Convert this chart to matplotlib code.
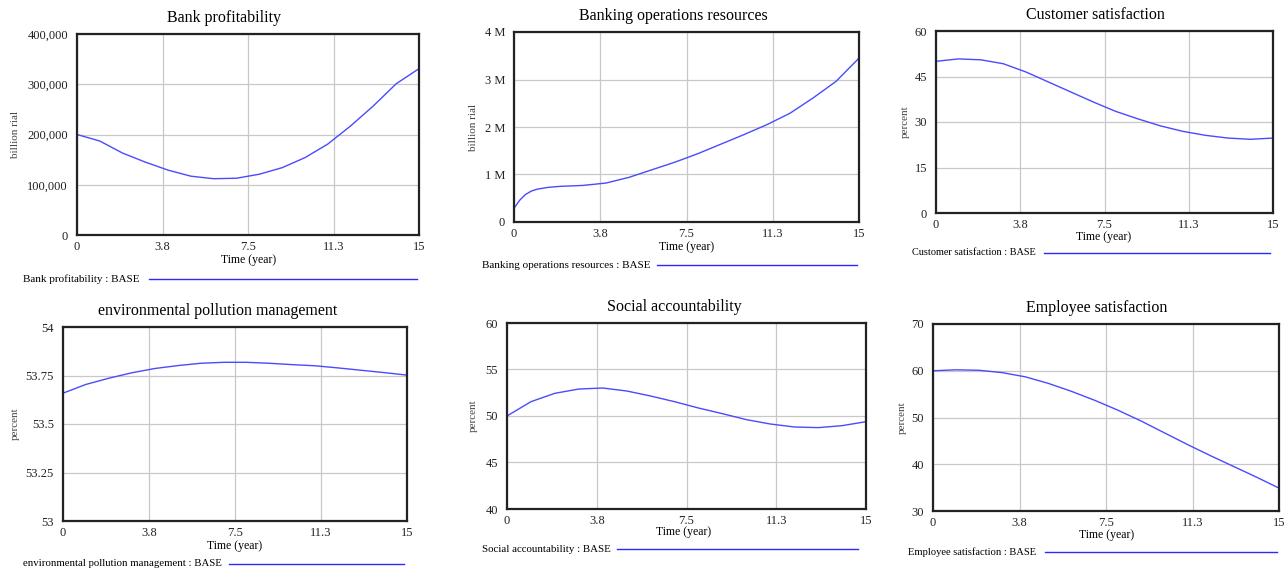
import numpy as np
import matplotlib
matplotlib.use("Agg")
import matplotlib.pyplot as plt
from matplotlib.lines import Line2D

plt.rcParams['font.family'] = ['Liberation Serif', 'DejaVu Serif']

W, H = 1287, 575

# values
years = list(range(16))
x_ticks = [0, 3.75, 7.5, 11.25, 15]
x_tick_labels = ["0", "3.8", "7.5", "11.3", "15"]

bank_profit = [200000, 187000, 163000, 145000, 129000, 117000, 112000, 113000,
               121000, 134000, 154000, 181000, 217000, 257000, 301000, 331000]
bank_ops_t = [0, 0.25, 0.5, 0.75, 1, 1.5, 2, 3, 4, 5, 6, 7, 8, 9, 10, 11, 12, 13, 14, 15]
bank_ops = [0.29e6, 0.46e6, 0.58e6, 0.65e6, 0.69e6, 0.73e6, 0.75e6, 0.77e6, 0.82e6, 0.94e6,
            1.10e6, 1.26e6, 1.44e6, 1.64e6, 1.84e6, 2.05e6, 2.29e6, 2.61e6, 2.96e6, 3.45e6]
cust_sat = [50.0, 50.8, 50.5, 49.2, 46.5, 43.2, 39.9, 36.6, 33.5, 31.0, 28.7,
            26.9, 25.6, 24.7, 24.3, 24.7]
env_poll = [53.659, 53.704, 53.736, 53.764, 53.786, 53.801, 53.813, 53.818, 53.818,
            53.813, 53.806, 53.800, 53.789, 53.777, 53.765, 53.752]
social_acc = [50.0, 51.54, 52.44, 52.90, 53.01, 52.69, 52.15, 51.54, 50.86, 50.25,
              49.61, 49.14, 48.82, 48.75, 48.96, 49.39]
emp_sat = [60.0, 60.2, 60.1, 59.6, 58.7, 57.3, 55.6, 53.7, 51.6, 49.3, 46.8, 44.3,
           41.9, 39.6, 37.3, 34.9]

y_ticks_profit = [0, 100000, 200000, 300000, 400000]
y_labels_profit = ["0", "100,000", "200,000", "300,000", "400,000"]
y_ticks_ops = [0, 1e6, 2e6, 3e6, 4e6]
y_labels_ops = ["0", "1 M", "2 M", "3 M", "4 M"]
y_ticks_cust = [0, 15, 30, 45, 60]
y_labels_cust = ["0", "15", "30", "45", "60"]
y_ticks_env = [53, 53.25, 53.5, 53.75, 54]
y_labels_env = ["53", "53.25", "53.5", "53.75", "54"]
y_ticks_soc = [40, 45, 50, 55, 60]
y_labels_soc = ["40", "45", "50", "55", "60"]
y_ticks_emp = [30, 40, 50, 60, 70]
y_labels_emp = ["30", "40", "50", "60", "70"]

panels = [
    # title, unit, x, y, yticks, ylabels, box(l, t, r, b), title_xy, xlabel_xy, ylabel_x,
    # legend(y, text_x, line_x0, line_x1, fontsize)
    ("Bank profitability", "billion rial", years, bank_profit, y_ticks_profit, y_labels_profit,
     (77, 34, 419, 235), (224, 18), (249, 260), 15, (279, 23, 149, 417, 8)),
    ("Banking operations resources", "billion rial", bank_ops_t, bank_ops, y_ticks_ops, y_labels_ops,
     (514, 32, 859, 222), (673, 16), (687, 247), 473, (265, 482, 657, 857, 8)),
    ("Customer satisfaction", "percent", years, cust_sat, y_ticks_cust, y_labels_cust,
     (936, 31, 1273, 213), (1095, 15), (1104, 237), 905, (253, 912, 1044, 1270, 7.4)),
    ("environmental pollution management", "percent", years, env_poll, y_ticks_env, y_labels_env,
     (63, 327, 407, 521), (218, 311), (235, 546), 15, (564, 23, 229, 404, 7.75)),
    ("Social accountability", "percent", years, social_acc, y_ticks_soc, y_labels_soc,
     (507, 323, 866, 509), (674, 307), (684, 532), 473, (549, 482, 617, 858, 7.8)),
    ("Employee satisfaction", "percent", years, emp_sat, y_ticks_emp, y_labels_emp,
     (933, 324, 1279, 511), (1097, 308), (1107, 535), 902, (552, 908, 1045, 1277, 7.6)),
]

fig = plt.figure(figsize=(W / 100, H / 100), dpi=100)
fig.patch.set_facecolor("white")

def fx(px):
    return px / W

def fy(py):
    return 1 - py / H

for (title, unit, xs, ys, yt, yl, box, tpos, xlpos, ylx, leg) in panels:
    l, t, r, b = box
    ax = fig.add_axes([fx(l), fy(b), fx(r) - fx(l), fy(t) - fy(b)])
    ax.plot(xs, ys, color="#4a4aff", lw=1.0)
    ax.set_xlim(0, 15)
    ax.set_ylim(yt[0], yt[-1])
    ax.set_xticks(x_ticks)
    ax.set_xticklabels(x_tick_labels)
    ax.set_yticks(yt)
    ax.set_yticklabels(yl)
    ax.grid(True, color="#c8c8c8", lw=0.9)
    ax.tick_params(axis="x", length=0, labelsize=9, pad=4, colors="#222222")
    ax.tick_params(axis="y", length=0, labelsize=9, pad=6.5, colors="#222222")
    for sp in ax.spines.values():
        sp.set_linewidth(1.6)
        sp.set_color("#222222")
    fig.text(fx(tpos[0]), fy(tpos[1]), title, ha="center", va="center", fontsize=11.5)
    fig.text(fx(xlpos[0]), fy(xlpos[1]), "Time (year)", ha="center", va="center", fontsize=8.5)
    fig.text(fx(ylx), fy((t + b) / 2), unit, ha="center", va="center", rotation=90,
             fontsize=8, color="#444444")
    ly, tx, lx0, lx1, lfs = leg
    fig.text(fx(tx), fy(ly), title + " : BASE", ha="left", va="center", fontsize=lfs)
    fig.add_artist(Line2D([fx(lx0), fx(lx1)], [fy(ly), fy(ly)], color="#2a2aff", lw=1.0))

fig.savefig("out.png", dpi=100)
